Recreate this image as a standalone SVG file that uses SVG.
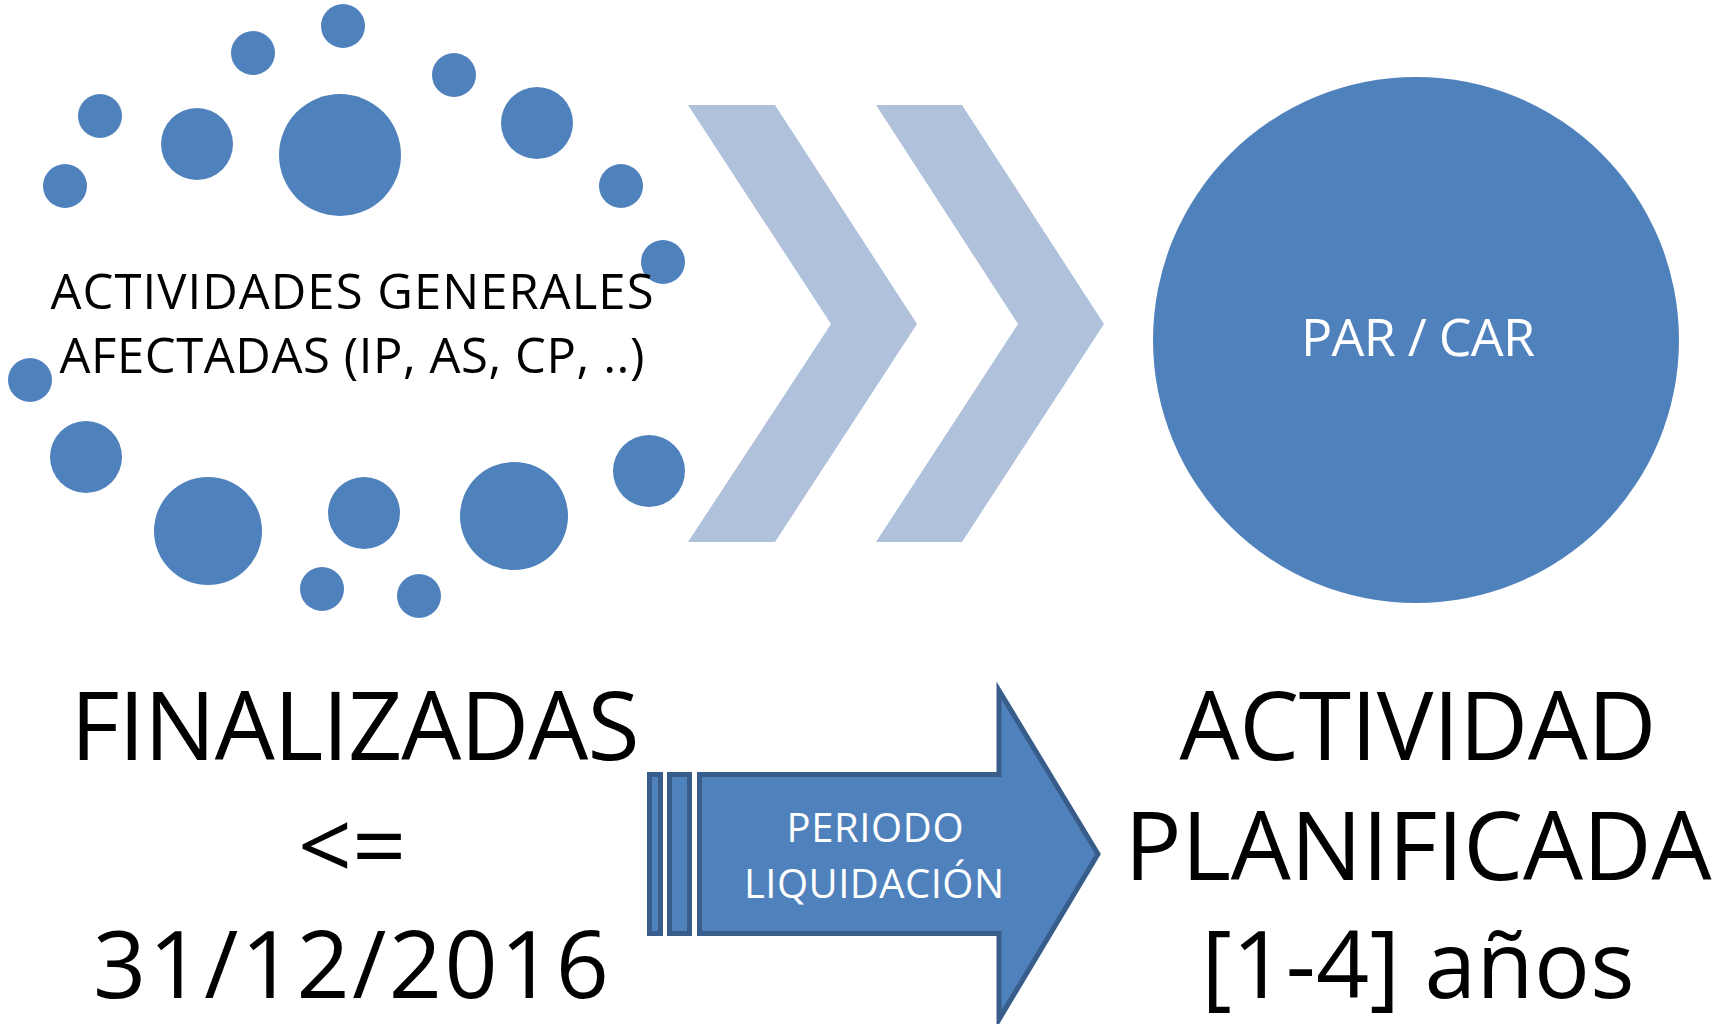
<svg xmlns="http://www.w3.org/2000/svg" width="1720" height="1024" viewBox="0 0 1720 1024">
<style>
.dot{fill:#4F81BD}
.chev{fill:#B0C1DC}
.t{font-family:"Open Sans","Noto Sans",sans-serif;text-anchor:middle}
.blk{fill:#000}
.wht{fill:#fff}
.stripe{fill:#4F81BD;stroke:#385D8A;stroke-width:5}
</style>
<rect width="1720" height="1024" fill="#fff"/>
<g id="actividades">
<circle class="dot" cx="343" cy="26" r="22"/>
<circle class="dot" cx="253" cy="53" r="22"/>
<circle class="dot" cx="454" cy="75" r="22"/>
<circle class="dot" cx="100" cy="116" r="22"/>
<circle class="dot" cx="197" cy="144" r="36"/>
<circle class="dot" cx="340" cy="155" r="61"/>
<circle class="dot" cx="537" cy="123" r="36"/>
<circle class="dot" cx="65" cy="186" r="22"/>
<circle class="dot" cx="621" cy="186" r="22"/>
<circle class="dot" cx="663" cy="262" r="22"/>
<circle class="dot" cx="30" cy="380" r="22"/>
<circle class="dot" cx="86" cy="457" r="36"/>
<circle class="dot" cx="208" cy="531" r="54"/>
<circle class="dot" cx="364" cy="513" r="36"/>
<circle class="dot" cx="514" cy="516" r="54"/>
<circle class="dot" cx="649" cy="471" r="36"/>
<circle class="dot" cx="322" cy="589" r="22"/>
<circle class="dot" cx="419" cy="596" r="22"/>
<text class="t blk" x="352" y="309" font-size="49" textLength="603">ACTIVIDADES GENERALES</text>
<text class="t blk" x="352" y="373" font-size="49" textLength="585">AFECTADAS (IP, AS, CP, ..)</text>
</g>
<g id="connectors">
<polygon class="chev" points="688,105 775,105 917,324 775,542 688,542 831,324"/>
<polygon class="chev" points="876,105 962,105 1104,324 962,542 876,542 1018,324"/>
</g>
<g id="par-car">
<circle class="dot" cx="1416" cy="340" r="263"/>
<text class="t wht" x="1418" y="356" font-size="52" textLength="234">PAR / CAR</text>
</g>
<g id="finalizadas">
<text class="t blk" x="355" y="760" font-size="95" textLength="569">FINALIZADAS</text>
<text class="t blk" x="352" y="880" font-size="95">&lt;=</text>
<text class="t blk" x="351" y="998" font-size="93" textLength="516">31/12/2016</text>
</g>
<g id="periodo-liquidacion">
<rect class="stripe" x="649.5" y="774.5" width="11" height="159"/>
<rect class="stripe" x="669.5" y="774.5" width="20" height="159"/>
<path class="stripe" d="M699.5,774.5 H999 V690.5 L1098,854 L999,1019.5 V933.5 H699.5 Z"/>
<text class="t wht" x="875" y="842" font-size="40" textLength="177">PERIODO</text>
<text class="t wht" x="874" y="898" font-size="40" textLength="260">LIQUIDACIÓN</text>
</g>
<g id="actividad-planificada">
<text class="t blk" x="1418" y="760" font-size="95" textLength="477">ACTIVIDAD</text>
<text class="t blk" x="1418" y="880" font-size="95" textLength="587">PLANIFICADA</text>
<text class="t blk" x="1418" y="998" font-size="93" textLength="433">[1-4] años</text>
</g>
</svg>
